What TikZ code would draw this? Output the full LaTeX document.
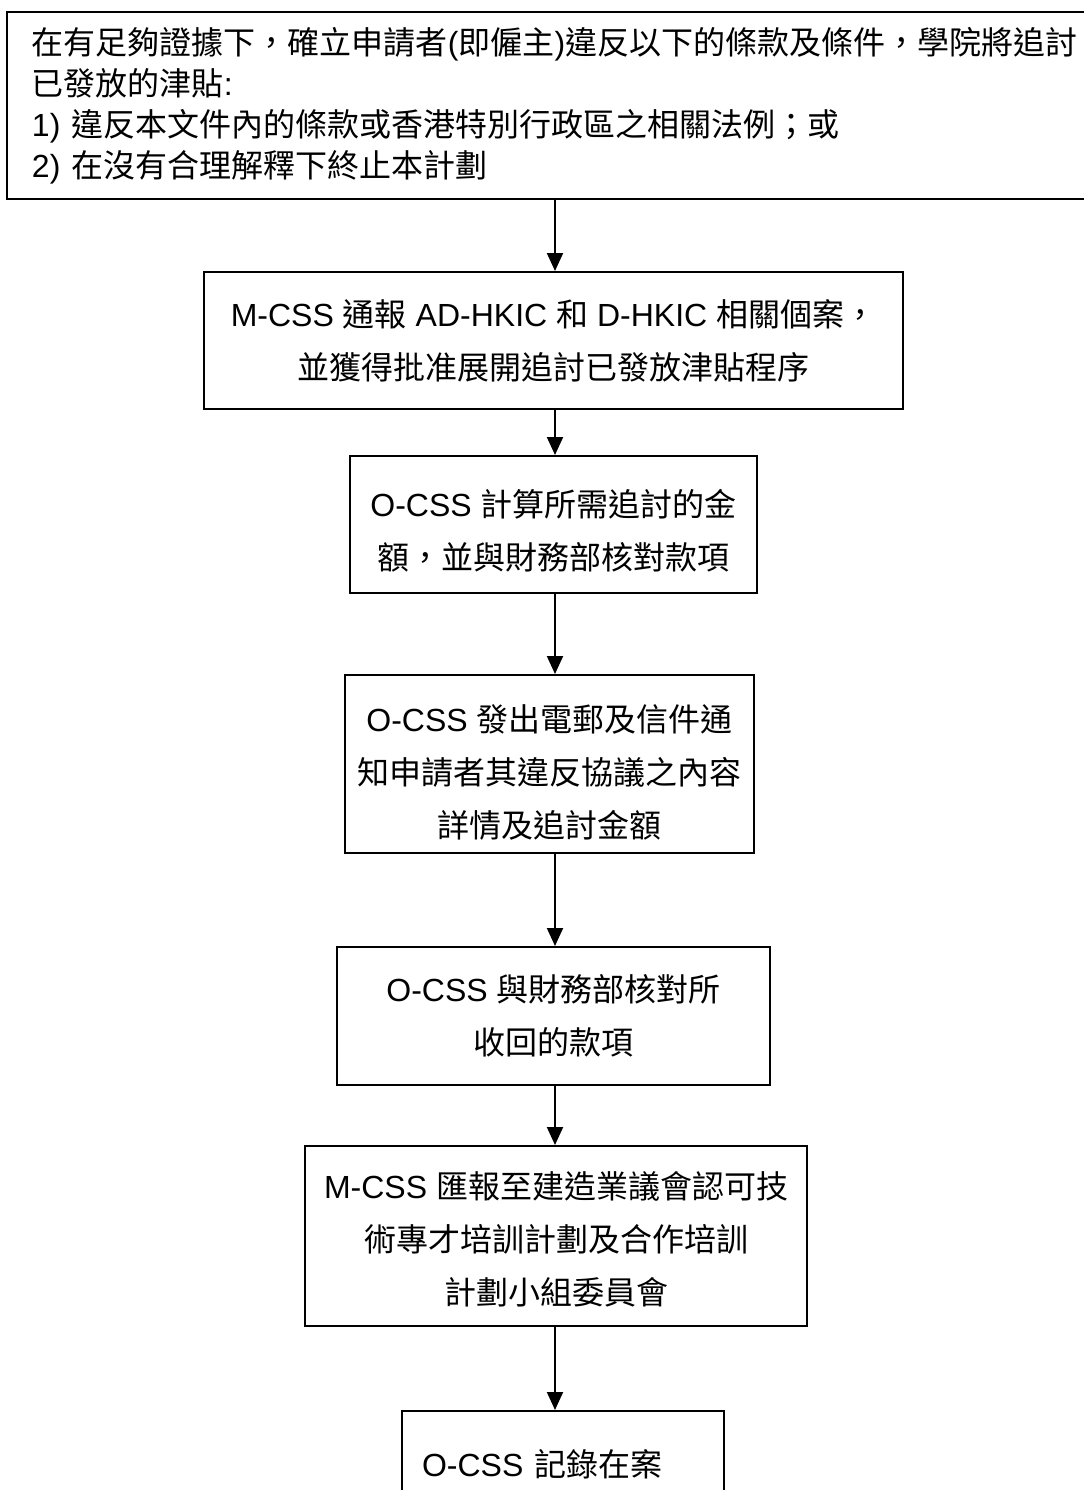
\documentclass[tikz,border=0pt]{standalone}
\usepackage{fontspec}
\setmainfont{Liberation Sans}
\newfontfamily\cjk{Noto Sans CJK TC}
\usetikzlibrary{arrows.meta}
\tikzset{
  box/.style={draw, line width=1pt, inner sep=0pt, align=center},
  twoline/.style={font=\fontsize{16}{26.5}\selectfont, align=center},
  tightline/.style={font=\fontsize{16}{20.5}\selectfont},
  arr/.style={line width=1pt, -{Triangle[length=9pt,width=8pt]}}
}
\begin{document}
\begin{tikzpicture}[x=0.5pt, y=-0.5pt]
\useasboundingbox (0,0) rectangle (1083,1490);
\coordinate (ax) at (555,0);
\node[box, tightline, anchor=north west, align=left, text width=530pt, inner xsep=12.5pt,
      minimum height=93.5pt] (b1) at (6,11)
  {{\cjk 在有足夠證據下，確立申請者}({\cjk 即僱主}){\cjk 違反以下的條款及條件，學院將追討}\\
   {\cjk 已發放的津貼}:\\
   1) {\cjk 違反本文件內的條款或香港特別行政區之相關法例；或}\\
   2) {\cjk 在沒有合理解釋下終止本計劃}};
\node[box, twoline, minimum width=349.5pt, minimum height=68.5pt] (b2) at (553.5,340.5)
  {M-CSS {\cjk 通報} AD-HKIC {\cjk 和} D-HKIC {\cjk 相關個案，}\\{\cjk 並獲得批准展開追討已發放津貼程序}};
\node[box, minimum width=203.5pt, minimum height=68.5pt,
      label={[twoline, yshift=-3pt]center:{O-CSS {\cjk 計算所需追討的金}\\{\cjk 額，並與財務部核對款項}}}] (b3) at (553.5,524.5) {};
\node[box, minimum width=204.5pt, minimum height=89pt,
      label={[twoline, yshift=-4.5pt]center:{O-CSS {\cjk 發出電郵及信件通}\\{\cjk 知申請者其違反協議之內容}\\{\cjk 詳情及追討金額}}}] (b4) at (549.5,764) {};
\node[box, twoline, minimum width=216.5pt, minimum height=69pt] (b5) at (553.5,1016)
  {O-CSS {\cjk 與財務部核對所}\\{\cjk 收回的款項}};
\node[box, minimum width=251pt, minimum height=90pt,
      label={[twoline, yshift=-1.5pt]center:{M-CSS {\cjk 匯報至建造業議會認可技}\\{\cjk 術專才培訓計劃及合作培訓}\\{\cjk 計劃小組委員會}}}] (b6) at (556,1236) {};
\node[box, twoline, anchor=north west, align=left, text width=141pt, inner xsep=10pt,
      minimum height=53pt] (b7) at (401,1410)
  {O-CSS {\cjk 記錄在案}};
\draw[arr] (b1.south -| ax) -- (b2.north -| ax);
\draw[arr] (b2.south -| ax) -- (b3.north -| ax);
\draw[arr] (b3.south -| ax) -- (b4.north -| ax);
\draw[arr] (b4.south -| ax) -- (b5.north -| ax);
\draw[arr] (b5.south -| ax) -- (b6.north -| ax);
\draw[arr] (b6.south -| ax) -- (b7.north -| ax);
\end{tikzpicture}
\end{document}
